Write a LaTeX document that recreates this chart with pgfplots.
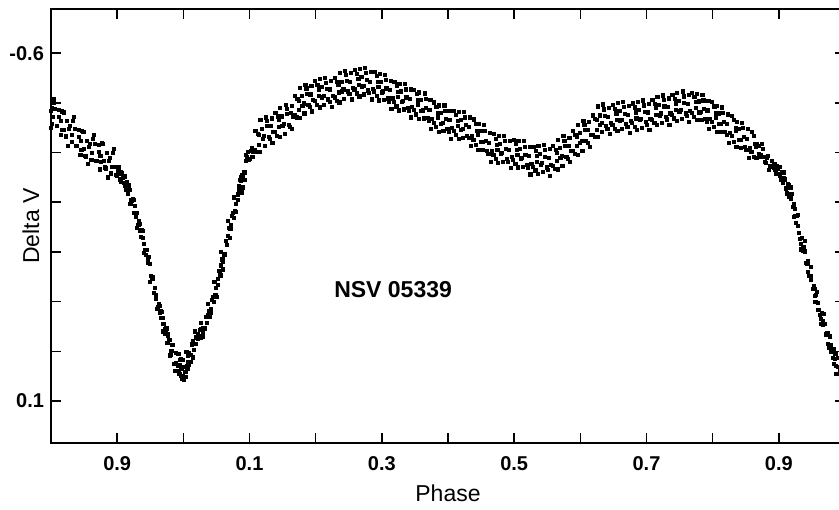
\documentclass[border=0pt]{standalone}
\usepackage{fontspec}
\setmainfont{Liberation Sans}
\usepackage{pgfplots}
\pgfplotsset{compat=1.18}

\begin{document}
\begin{tikzpicture}
\begin{axis}[
    at={(0,0)}, anchor=south west,
    scale only axis,
    width=397pt, height=217pt,
    xmin=-0.2, xmax=1.0,
    ymin=-0.689, ymax=0.1845,
    y dir=reverse,
    axis line style={line width=1pt},
    tick align=inside,
    major tick length=5pt,
    tick style={line width=0.8pt, black},
    xtick={-0.1,0,0.1,0.2,0.3,0.4,0.5,0.6,0.7,0.8,0.9},
    xticklabels={0.9,,0.1,,0.3,,0.5,,0.7,,0.9},
    ytick={-0.6,-0.5,-0.4,-0.3,-0.2,-0.1,0,0.1},
    yticklabels={-0.6,,,,,,,0.1},
    tick label style={font=\fontsize{10}{12}\selectfont\bfseries},
    xticklabel style={yshift=-3pt},
    xlabel={Phase},
    ylabel={Delta V},
    label style={font=\fontsize{11.5}{13}\selectfont},
    xlabel style={at={(axis description cs:0.5,0)}, anchor=center, yshift=-25pt},
    ylabel style={at={(axis description cs:0,0.5)}, anchor=center, yshift=10pt},
]
% observations, first pass
\addplot[only marks, mark=square*, mark size=0.8pt, black] table {
x y
-0.200 -0.450
-0.199 -0.490
-0.198 -0.472
-0.1955 -0.508
-0.194 -0.488
-0.191 -0.453
-0.188 -0.472
-0.1855 -0.436
-0.184 -0.445
-0.181 -0.481
-0.178 -0.433
-0.1755 -0.463
-0.174 -0.414
-0.171 -0.454
-0.168 -0.436
-0.1655 -0.472
-0.164 -0.448
-0.161 -0.413
-0.158 -0.432
-0.1555 -0.396
-0.154 -0.406
-0.151 -0.442
-0.148 -0.394
-0.1455 -0.424
-0.144 -0.377
-0.141 -0.417
-0.138 -0.399
-0.1355 -0.435
-0.134 -0.418
-0.131 -0.383
-0.128 -0.402
-0.1255 -0.366
-0.124 -0.382
-0.121 -0.418
-0.118 -0.370
-0.1155 -0.400
-0.114 -0.350
-0.111 -0.390
-0.108 -0.372
-0.1055 -0.408
-0.104 -0.372
-0.101 -0.354
-0.098 -0.364
-0.0955 -0.346
-0.094 -0.342
-0.091 -0.350
-0.088 -0.334
-0.0855 -0.340
-0.084 -0.318
-0.081 -0.325
-0.078 -0.303
-0.0755 -0.304
-0.074 -0.279
-0.071 -0.279
-0.068 -0.255
-0.0655 -0.256
-0.064 -0.230
-0.061 -0.229
-0.058 -0.204
-0.0555 -0.204
-0.054 -0.178
-0.051 -0.176
-0.048 -0.149
-0.0455 -0.146
-0.044 -0.118
-0.041 -0.113
-0.038 -0.089
-0.0355 -0.091
-0.034 -0.067
-0.031 -0.068
-0.028 -0.045
-0.0255 -0.046
-0.024 -0.017
-0.021 -0.023
-0.018 -0.001
-0.0155 -0.013
-0.014 0.025
-0.011 0.003
-0.008 0.030
-0.0055 0.018
-0.012 0.040
-0.006 0.045
-0.004 0.049
-0.003 0.036
-0.001 0.017
0.001 0.058
0.002 0.041
0.0045 0.001
0.006 0.035
0.006 0.030
0.009 0.004
0.009 0.028
0.012 0.007
0.0145 -0.020
0.016 -0.003
0.019 -0.028
0.022 -0.025
0.0245 -0.043
0.026 -0.027
0.029 -0.046
0.032 -0.047
0.0345 -0.069
0.036 -0.057
0.039 -0.082
0.042 -0.086
0.0445 -0.110
0.046 -0.099
0.049 -0.127
0.052 -0.134
0.0545 -0.162
0.056 -0.153
0.059 -0.185
0.062 -0.195
0.0645 -0.223
0.066 -0.215
0.069 -0.248
0.072 -0.254
0.0745 -0.279
0.076 -0.268
0.079 -0.296
0.082 -0.304
0.0845 -0.332
0.086 -0.323
0.089 -0.355
0.092 -0.361
0.0945 -0.384
0.090 -0.330
0.087 -0.350
0.095 -0.395
0.093 -0.345
0.096 -0.391
0.099 -0.386
0.102 -0.404
0.1045 -0.391
0.106 -0.401
0.109 -0.443
0.112 -0.401
0.1145 -0.435
0.116 -0.402
0.119 -0.447
0.122 -0.433
0.1245 -0.471
0.126 -0.463
0.129 -0.431
0.132 -0.453
0.1345 -0.419
0.136 -0.442
0.139 -0.480
0.142 -0.434
0.1445 -0.466
0.146 -0.431
0.149 -0.473
0.152 -0.458
0.1545 -0.496
0.156 -0.488
0.159 -0.456
0.162 -0.480
0.1645 -0.448
0.166 -0.473
0.169 -0.514
0.172 -0.471
0.1745 -0.504
0.176 -0.470
0.179 -0.514
0.182 -0.499
0.1845 -0.537
0.186 -0.529
0.189 -0.496
0.192 -0.517
0.1945 -0.483
0.196 -0.506
0.199 -0.544
0.202 -0.496
0.2045 -0.527
0.206 -0.491
0.209 -0.532
0.212 -0.514
0.2145 -0.551
0.216 -0.541
0.219 -0.507
0.222 -0.527
0.2245 -0.492
0.226 -0.514
0.229 -0.551
0.232 -0.504
0.2345 -0.536
0.236 -0.501
0.239 -0.543
0.242 -0.527
0.2445 -0.565
0.246 -0.556
0.249 -0.523
0.252 -0.543
0.2545 -0.507
0.256 -0.530
0.259 -0.567
0.262 -0.519
0.2645 -0.549
0.266 -0.513
0.269 -0.553
0.272 -0.535
0.2745 -0.571
0.276 -0.560
0.279 -0.525
0.282 -0.543
0.2845 -0.507
0.286 -0.528
0.289 -0.563
0.292 -0.514
0.2945 -0.542
0.296 -0.505
0.299 -0.543
0.302 -0.523
0.3045 -0.557
0.306 -0.546
0.309 -0.509
0.312 -0.526
0.3145 -0.488
0.316 -0.509
0.319 -0.543
0.322 -0.493
0.3245 -0.522
0.326 -0.485
0.329 -0.523
0.332 -0.504
0.3345 -0.538
0.336 -0.527
0.339 -0.490
0.342 -0.508
0.3445 -0.471
0.346 -0.492
0.349 -0.526
0.352 -0.477
0.3545 -0.505
0.356 -0.468
0.359 -0.506
0.362 -0.485
0.3645 -0.519
0.366 -0.508
0.369 -0.470
0.372 -0.486
0.3745 -0.448
0.376 -0.468
0.379 -0.501
0.382 -0.451
0.3845 -0.479
0.386 -0.442
0.389 -0.480
0.392 -0.460
0.3945 -0.495
0.396 -0.484
0.399 -0.447
0.402 -0.465
0.4045 -0.428
0.406 -0.450
0.409 -0.484
0.412 -0.435
0.4145 -0.464
0.416 -0.428
0.419 -0.466
0.422 -0.447
0.4245 -0.482
0.426 -0.471
0.429 -0.434
0.432 -0.451
0.4345 -0.413
0.436 -0.434
0.439 -0.467
0.442 -0.416
0.4445 -0.444
0.446 -0.406
0.449 -0.443
0.452 -0.422
0.4545 -0.455
0.456 -0.443
0.459 -0.404
0.462 -0.420
0.4645 -0.382
0.466 -0.403
0.469 -0.437
0.472 -0.387
0.4745 -0.416
0.476 -0.380
0.479 -0.418
0.482 -0.399
0.4845 -0.434
0.486 -0.424
0.489 -0.387
0.492 -0.406
0.4945 -0.369
0.496 -0.391
0.499 -0.426
0.502 -0.377
0.5045 -0.406
0.506 -0.370
0.509 -0.408
0.512 -0.389
0.5145 -0.423
0.516 -0.412
0.519 -0.375
0.522 -0.393
0.5245 -0.356
0.526 -0.378
0.529 -0.412
0.532 -0.364
0.5345 -0.393
0.536 -0.357
0.539 -0.397
0.542 -0.379
0.5445 -0.415
0.546 -0.405
0.549 -0.370
0.552 -0.389
0.5545 -0.353
0.556 -0.376
0.559 -0.413
0.562 -0.367
0.5645 -0.400
0.566 -0.366
0.569 -0.409
0.572 -0.394
0.5745 -0.433
0.576 -0.424
0.579 -0.392
0.582 -0.414
0.5845 -0.381
0.586 -0.404
0.589 -0.443
0.592 -0.398
0.5945 -0.431
0.596 -0.396
0.599 -0.439
0.602 -0.424
0.6045 -0.463
0.606 -0.455
0.609 -0.424
0.612 -0.446
0.6145 -0.412
0.616 -0.436
0.619 -0.475
0.622 -0.431
0.6245 -0.465
0.626 -0.431
0.629 -0.475
0.632 -0.460
0.6345 -0.497
0.636 -0.487
0.639 -0.453
0.642 -0.472
0.6445 -0.437
0.646 -0.459
0.649 -0.496
0.652 -0.448
0.6545 -0.479
0.656 -0.443
0.659 -0.484
0.662 -0.466
0.6645 -0.502
0.666 -0.492
0.669 -0.457
0.672 -0.476
0.6745 -0.440
0.676 -0.463
0.679 -0.499
0.682 -0.451
0.6845 -0.481
0.686 -0.446
0.689 -0.486
0.692 -0.468
0.6945 -0.505
0.696 -0.495
0.699 -0.461
0.702 -0.481
0.7045 -0.445
0.706 -0.468
0.709 -0.506
0.712 -0.459
0.7145 -0.490
0.716 -0.455
0.719 -0.496
0.722 -0.479
0.7245 -0.515
0.726 -0.506
0.729 -0.472
0.732 -0.492
0.7345 -0.456
0.736 -0.479
0.739 -0.516
0.742 -0.469
0.7445 -0.499
0.746 -0.463
0.749 -0.504
0.752 -0.486
0.7545 -0.523
0.756 -0.513
0.759 -0.479
0.762 -0.498
0.7645 -0.462
0.766 -0.484
0.769 -0.520
0.772 -0.472
0.7745 -0.502
0.776 -0.465
0.779 -0.503
0.782 -0.482
0.7845 -0.516
0.786 -0.505
0.789 -0.468
0.792 -0.485
0.7945 -0.447
0.796 -0.468
0.799 -0.502
0.802 -0.451
0.8045 -0.479
0.806 -0.442
0.809 -0.479
0.812 -0.458
0.8145 -0.491
0.816 -0.480
0.819 -0.441
0.822 -0.457
0.8245 -0.419
0.826 -0.440
0.829 -0.474
0.832 -0.422
0.8345 -0.449
0.836 -0.411
0.839 -0.447
0.842 -0.426
0.8445 -0.460
0.846 -0.449
0.849 -0.411
0.852 -0.427
0.8545 -0.389
0.856 -0.409
0.859 -0.442
0.862 -0.391
0.8645 -0.418
0.866 -0.390
0.869 -0.414
0.872 -0.395
0.8745 -0.417
0.876 -0.407
0.879 -0.381
0.882 -0.390
0.8845 -0.365
0.886 -0.373
0.889 -0.383
0.892 -0.369
0.8945 -0.378
0.896 -0.358
0.899 -0.368
0.902 -0.353
0.9045 -0.360
0.906 -0.339
0.909 -0.346
0.912 -0.329
0.9145 -0.334
0.916 -0.312
0.919 -0.317
0.922 -0.291
0.9245 -0.287
0.926 -0.259
0.929 -0.253
0.932 -0.227
0.9345 -0.228
0.936 -0.202
0.939 -0.201
0.942 -0.177
0.9445 -0.178
0.946 -0.152
0.949 -0.151
0.952 -0.126
0.9545 -0.125
0.956 -0.099
0.959 -0.097
0.962 -0.074
0.9645 -0.077
0.966 -0.053
0.969 -0.055
0.972 -0.033
0.9745 -0.035
0.976 -0.008
0.979 -0.013
0.982 0.013
0.9845 0.005
0.986 0.030
0.989 0.014
0.992 0.039
0.9945 0.058
};
% observations, second pass
\addplot[only marks, mark=square*, mark size=0.8pt, black] table {
x y
-0.1997 -0.484
-0.199 -0.458
-0.1965 -0.500
-0.1915 -0.454
-0.1875 -0.486
-0.1852 -0.464
-0.1835 -0.483
-0.1802 -0.446
-0.177 -0.431
-0.173 -0.448
-0.169 -0.422
-0.1665 -0.464
-0.1615 -0.414
-0.1575 -0.446
-0.1552 -0.424
-0.1535 -0.444
-0.1502 -0.407
-0.147 -0.392
-0.143 -0.411
-0.139 -0.385
-0.1365 -0.427
-0.1315 -0.384
-0.1275 -0.416
-0.1252 -0.394
-0.1235 -0.420
-0.1202 -0.383
-0.117 -0.368
-0.113 -0.384
-0.109 -0.358
-0.1065 -0.400
-0.1015 -0.355
-0.0975 -0.371
-0.0952 -0.360
-0.0935 -0.358
-0.0902 -0.339
-0.087 -0.326
-0.083 -0.328
-0.079 -0.304
-0.0765 -0.307
-0.0715 -0.270
-0.0675 -0.262
-0.0652 -0.242
-0.0635 -0.245
-0.0602 -0.216
-0.057 -0.194
-0.053 -0.185
-0.049 -0.152
-0.0465 -0.150
-0.0415 -0.105
-0.0375 -0.096
-0.0352 -0.078
-0.0335 -0.082
-0.0302 -0.056
-0.027 -0.036
-0.023 -0.032
-0.019 0.006
-0.0165 -0.013
-0.0115 0.023
-0.0075 0.005
-0.0052 0.028
-0.0035 0.015
-0.0002 0.050
0.003 0.042
0.0015 0.032
-0.002 0.055
0.004 0.052
-0.0075 0.040
0.0075 0.022
0.007 0.008
0.011 0.021
0.0135 -0.014
0.0185 -0.015
0.0225 -0.035
0.0248 -0.031
0.0265 -0.045
0.0298 -0.039
0.033 -0.045
0.037 -0.073
0.041 -0.078
0.0435 -0.104
0.0485 -0.113
0.0525 -0.146
0.0548 -0.152
0.0565 -0.173
0.0598 -0.181
0.063 -0.196
0.067 -0.233
0.071 -0.246
0.0735 -0.272
0.0785 -0.283
0.0825 -0.316
0.0848 -0.322
0.0865 -0.343
0.0898 -0.351
0.093 -0.360
0.097 -0.401
0.101 -0.388
0.1035 -0.409
0.1085 -0.405
0.1125 -0.437
0.1148 -0.415
0.1165 -0.465
0.1198 -0.428
0.123 -0.413
0.127 -0.453
0.131 -0.427
0.1335 -0.469
0.1385 -0.441
0.1425 -0.473
0.1448 -0.451
0.1465 -0.490
0.1498 -0.453
0.153 -0.438
0.157 -0.478
0.161 -0.452
0.1635 -0.494
0.1685 -0.476
0.1725 -0.508
0.1748 -0.486
0.1765 -0.531
0.1798 -0.494
0.183 -0.479
0.187 -0.518
0.191 -0.492
0.1935 -0.534
0.1985 -0.504
0.2025 -0.536
0.2048 -0.514
0.2065 -0.548
0.2098 -0.511
0.213 -0.496
0.217 -0.528
0.221 -0.502
0.2235 -0.544
0.2285 -0.511
0.2325 -0.543
0.2348 -0.521
0.2365 -0.560
0.2398 -0.523
0.243 -0.508
0.247 -0.544
0.251 -0.518
0.2535 -0.560
0.2585 -0.527
0.2625 -0.559
0.2648 -0.537
0.2665 -0.569
0.2698 -0.532
0.273 -0.517
0.277 -0.546
0.281 -0.520
0.2835 -0.562
0.2885 -0.523
0.2925 -0.555
0.2948 -0.533
0.2965 -0.558
0.2998 -0.521
0.303 -0.506
0.307 -0.529
0.311 -0.503
0.3135 -0.545
0.3185 -0.502
0.3225 -0.534
0.3248 -0.512
0.3265 -0.539
0.3298 -0.502
0.333 -0.487
0.337 -0.511
0.341 -0.485
0.3435 -0.527
0.3485 -0.486
0.3525 -0.518
0.3548 -0.496
0.3565 -0.521
0.3598 -0.484
0.363 -0.469
0.367 -0.490
0.371 -0.464
0.3735 -0.506
0.3785 -0.460
0.3825 -0.492
0.3848 -0.470
0.3865 -0.495
0.3898 -0.458
0.393 -0.443
0.397 -0.468
0.401 -0.442
0.4035 -0.484
0.4085 -0.444
0.4125 -0.476
0.4148 -0.454
0.4165 -0.482
0.4198 -0.445
0.423 -0.430
0.427 -0.455
0.431 -0.429
0.4335 -0.471
0.4385 -0.426
0.4425 -0.458
0.4448 -0.436
0.4465 -0.458
0.4498 -0.421
0.453 -0.406
0.457 -0.424
0.461 -0.398
0.4635 -0.440
0.4685 -0.396
0.4725 -0.428
0.4748 -0.406
0.4765 -0.434
0.4798 -0.397
0.483 -0.382
0.487 -0.408
0.491 -0.382
0.4935 -0.424
0.4985 -0.386
0.5025 -0.418
0.5048 -0.396
0.5065 -0.424
0.5098 -0.387
0.513 -0.372
0.517 -0.396
0.521 -0.370
0.5235 -0.412
0.5285 -0.372
0.5325 -0.404
0.5348 -0.382
0.5365 -0.413
0.5398 -0.376
0.543 -0.361
0.547 -0.391
0.551 -0.365
0.5535 -0.407
0.5585 -0.373
0.5625 -0.405
0.5648 -0.383
0.5665 -0.426
0.5698 -0.389
0.573 -0.374
0.577 -0.414
0.581 -0.388
0.5835 -0.430
0.5885 -0.404
0.5925 -0.436
0.5948 -0.414
0.5965 -0.456
0.5998 -0.419
0.603 -0.404
0.607 -0.446
0.611 -0.420
0.6135 -0.462
0.6185 -0.436
0.6225 -0.468
0.6248 -0.446
0.6265 -0.493
0.6298 -0.456
0.633 -0.441
0.637 -0.474
0.641 -0.448
0.6435 -0.490
0.6485 -0.456
0.6525 -0.488
0.6548 -0.466
0.6565 -0.500
0.6598 -0.463
0.663 -0.448
0.667 -0.478
0.671 -0.452
0.6735 -0.494
0.6785 -0.459
0.6825 -0.491
0.6848 -0.469
0.6865 -0.502
0.6898 -0.465
0.693 -0.450
0.697 -0.482
0.701 -0.456
0.7035 -0.498
0.7085 -0.466
0.7125 -0.498
0.7148 -0.476
0.7165 -0.512
0.7198 -0.475
0.723 -0.460
0.727 -0.493
0.731 -0.467
0.7335 -0.509
0.7385 -0.476
0.7425 -0.508
0.7448 -0.486
0.7465 -0.520
0.7498 -0.483
0.753 -0.468
0.757 -0.500
0.761 -0.474
0.7635 -0.516
0.7685 -0.480
0.7725 -0.512
0.7748 -0.490
0.7765 -0.518
0.7798 -0.481
0.783 -0.466
0.787 -0.488
0.791 -0.462
0.7935 -0.504
0.7985 -0.461
0.8025 -0.493
0.8048 -0.471
0.8065 -0.494
0.8098 -0.457
0.813 -0.442
0.817 -0.461
0.821 -0.435
0.8235 -0.477
0.8285 -0.433
0.8325 -0.465
0.8348 -0.443
0.8365 -0.462
0.8398 -0.425
0.843 -0.410
0.847 -0.431
0.851 -0.405
0.8535 -0.447
0.8585 -0.401
0.8625 -0.433
0.8648 -0.411
0.8665 -0.417
0.8698 -0.398
0.873 -0.391
0.877 -0.392
0.881 -0.380
0.8835 -0.394
0.8885 -0.372
0.8925 -0.377
0.8948 -0.366
0.8965 -0.374
0.8998 -0.357
0.903 -0.345
0.907 -0.349
0.911 -0.328
0.9135 -0.336
0.9185 -0.308
0.9225 -0.297
0.9248 -0.273
0.9265 -0.273
0.9298 -0.238
0.933 -0.217
0.937 -0.209
0.941 -0.178
0.9435 -0.181
0.9485 -0.143
0.9525 -0.132
0.9548 -0.112
0.9565 -0.113
0.9598 -0.083
0.963 -0.065
0.967 -0.061
0.971 -0.034
0.9735 -0.037
0.9785 0.001
0.9825 -0.004
0.9848 0.016
0.9865 0.004
0.9898 0.031
0.993 0.046
};
% observations on the steep branches, spread in phase
\addplot[only marks, mark=square*, mark size=0.8pt, black] table {
x y
-0.0890 -0.352
-0.0830 -0.335
-0.0800 -0.296
-0.0730 -0.292
-0.0700 -0.249
-0.0620 -0.242
-0.0600 -0.198
-0.0520 -0.190
-0.0500 -0.140
-0.0430 -0.128
-0.0400 -0.085
-0.0330 -0.080
-0.0300 -0.040
-0.0230 -0.035
-0.0200 0.008
0.0140 0.012
0.0170 -0.040
0.0260 -0.058
0.0300 -0.030
0.0370 -0.095
0.0400 -0.070
0.0470 -0.140
0.0500 -0.110
0.0570 -0.200
0.0600 -0.165
0.0670 -0.262
0.0700 -0.228
0.0760 -0.310
0.0800 -0.280
0.0850 -0.345
0.0880 -0.320
0.9010 -0.372
0.9070 -0.360
0.9120 -0.318
0.9180 -0.330
0.9230 -0.270
0.9290 -0.275
0.9340 -0.205
0.9390 -0.222
0.9440 -0.160
0.9490 -0.170
0.9540 -0.100
0.9580 -0.120
0.9640 -0.055
0.9680 -0.075
0.9740 -0.015
0.9770 -0.030
0.9870 0.045
0.9830 0.025
};
\node[font=\fontsize{11.5}{13}\selectfont\bfseries] at (axis cs:0.317,-0.125) {NSV 05339};
\end{axis}
\pgfresetboundingbox
\useasboundingbox (-25.5pt,-33pt) rectangle (394pt,221.5pt);
\end{tikzpicture}
\end{document}
